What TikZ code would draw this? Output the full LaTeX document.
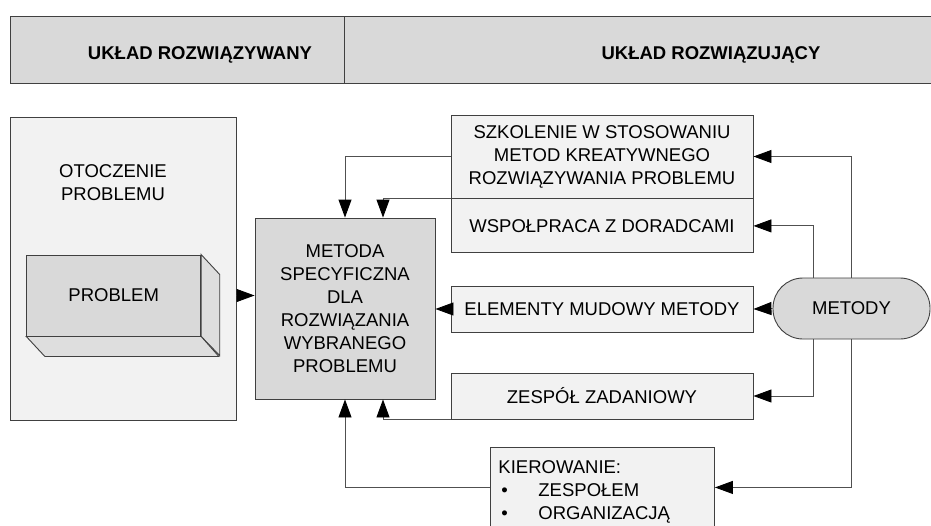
\documentclass[tikz,border=0pt]{standalone}
\usepackage{fontspec}
\setmainfont{Liberation Sans}
\usetikzlibrary{arrows.meta}
\definecolor{boxline}{HTML}{404040}
\definecolor{darkfill}{HTML}{D9D9D9}
\definecolor{sidefill}{HTML}{DEDEDE}
\definecolor{lightfill}{HTML}{F2F2F2}
\definecolor{wire}{HTML}{505050}
\begin{document}
\begin{tikzpicture}[x=1pt, y=-1pt,
    box/.style={draw=boxline, line width=0.9pt, align=center, inner sep=0pt, font=\fontsize{18.5}{23}\selectfont},
    light/.style={box, fill=lightfill},
    dark/.style={box, fill=darkfill},
    caption/.style={align=center, font=\fontsize{18.5}{23}\selectfont},
    arr/.style={draw=wire, line width=0.9pt, -{Triangle[length=18pt, width=13pt, color=black]}}]
    \useasboundingbox (0,0) rectangle (931,525);
    \fill[white] (0,0) rectangle (931,525);
    \node[dark, minimum width=333.3pt, minimum height=67pt] (hdrL) at (177.35,49.5) {};
    \node[dark, minimum width=596pt, minimum height=67pt, anchor=west] (hdrR) at (hdrL.east) {};
    \node[caption, font=\bfseries\fontsize{18.5}{23}\selectfont] (hdrLtxt) at (200,55) {UKŁAD ROZWIĄZYWANY};
    \node[caption, font=\bfseries\fontsize{18.5}{23}\selectfont] (hdrRtxt) at (711,55) {UKŁAD ROZWIĄZUJĄCY};
    \node[light, minimum width=225.3pt, minimum height=303pt] (otocz) at (123.35,268.5) {};
    \node[caption] (otocztxt) at (113,183) {OTOCZENIE\\PROBLEMU};
    \node[dark, minimum width=174pt, minimum height=81pt] (problem) at (113.7,295.5) {PROBLEM};
    \draw[boxline, line width=0.9pt, fill=sidefill] (problem.north east) -- ++(18.6,20) -- ++(0,81) -- (problem.south east) -- cycle;
    \draw[boxline, line width=0.9pt, fill=sidefill] (problem.south west) -- ++(18.6,20) -- ++(174,0) -- (problem.south east) -- cycle;
    \node[dark, minimum width=180pt, minimum height=181pt] (metoda) at (345,308.5) {METODA\\SPECYFICZNA\\DLA\\ROZWIĄZANIA\\WYBRANEGO\\PROBLEMU};
    \node[light, minimum width=302pt, minimum height=83pt] (szkol) at (602,156.5) {SZKOLENIE W STOSOWANIU\\METOD KREATYWNEGO\\ROZWIĄZYWANIA PROBLEMU};
    \node[light, minimum width=302pt, minimum height=54pt, anchor=north] (wspol) at (szkol.south) {WSPOŁPRACA Z DORADCAMI};
    \node[light, minimum width=302pt, minimum height=46pt] (elem) at (602,309) {ELEMENTY MUDOWY METODY};
    \node[light, minimum width=302pt, minimum height=46pt] (zesp) at (602,396) {ZESPÓŁ ZADANIOWY};
    \node[dark, rounded corners=30pt, minimum width=157pt, minimum height=61pt] (metody) at (851.5,308.5) {METODY};
    \node[light, align=left, anchor=north west, text width=208pt, inner xsep=8pt, minimum height=88pt] (kier) at (490,447) {KIEROWANIE:\\\hspace*{3pt}\makebox[37pt][l]{•}ZESPOŁEM\\\hspace*{3pt}\makebox[37pt][l]{•}ORGANIZACJĄ};
    \draw[arr] (otocz.east |- problem.center) -- (metoda.west |- problem.center);
    \draw[arr] (szkol.west) -| (metoda.north);
    \draw[arr] (wspol.north west) -| ([xshift=38pt]metoda.north);
    \draw[arr] (zesp.south west) -| ([xshift=38pt]metoda.south);
    \draw[arr] ([yshift=4pt]kier.west) -| (metoda.south);
    \draw[arr] (elem.west) -- (metoda.east |- elem.west);
    \draw[arr] (metody.west) -- (elem.east);
    \draw[arr] (metody.north) |- (szkol.east);
    \draw[arr] ([xshift=-38pt]metody.north) |- (wspol.east);
    \draw[arr] ([xshift=-38pt]metody.south) |- (zesp.east);
    \draw[arr] (metody.south) |- ([yshift=4pt]kier.east);
\end{tikzpicture}
\end{document}
